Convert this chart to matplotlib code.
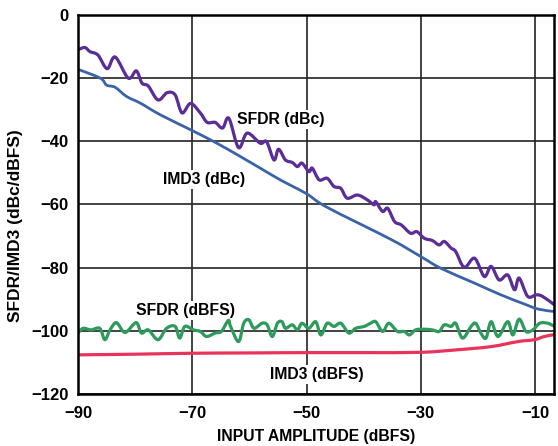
import numpy as np
import matplotlib.pyplot as plt
from matplotlib.path import Path
from matplotlib.patches import PathPatch

plt.rcParams['font.family'] = ['Liberation Sans', 'DejaVu Sans']
plt.rcParams['font.weight'] = 'bold'

# SFDR (dBc)
sfdr_dbc_x = [-90, -88.8, -87.9, -86.5, -84.9, -83.5, -81.2, -79.8, -78.8, -77.7,
              -76, -74.4, -73, -71.8, -70.3, -68.6, -67.4, -66, -64.7, -63.6,
              -61.9, -60.4, -58.1, -57.0, -55.7, -54.9, -53.7, -52.5, -51.6, -50.8,
              -49.6, -49.0, -47.8, -46.4, -45.2, -44.0, -42.9, -41.1, -39.4, -38.2,
              -37.9, -36.7, -35.8, -34.6, -33.4, -31.8, -30.7, -29.4, -28.0, -26.8,
              -25.9, -24.7, -23.9, -22.4, -20.6, -18.9, -17.7, -16.3, -14.8, -13.6,
              -12.8, -11.3, -9.8, -8.7, -6.6]
sfdr_dbc_y = [-11, -10.3, -11.6, -12.7, -17, -13.3, -20, -17.7, -21.6, -22.5,
              -26.9, -24.6, -25.3, -31, -28, -31, -34, -34, -35.8, -32.7,
              -42, -37.4, -40.6, -40.1, -45.9, -42.5, -45.9, -46.7, -48.0, -46.9,
              -49.6, -48.5, -52.2, -51.7, -54.3, -54.9, -58.0, -57.0, -58.5, -60.1,
              -59.1, -62.2, -61.2, -65.4, -66.5, -69.1, -68.6, -70.7, -71.4, -72.8,
              -71.7, -73.8, -74.9, -79.9, -77.0, -82.8, -79.6, -83.9, -82.3, -87.0,
              -83.3, -89.1, -88.6, -89.1, -91.8]

# IMD3 (dBc)
imd3_dbc_x = [-90, -86.1, -85, -83.5, -81.5, -79.1, -75.6, -70, -65.7, -61.6,
              -58.1, -54.6, -50, -46.4, -35.3, -30, -26.5, -20.6, -16, -11.9,
              -9.5, -6.6]
imd3_dbc_y = [-17.2, -20, -22.2, -22.9, -25.8, -27.9, -31.6, -36.6, -40.6, -44.8,
              -48.5, -52.2, -56.6, -60.9, -71.0, -76.5, -80.2, -84.9, -88.6, -91.5,
              -93.1, -93.9]

# SFDR (dBFS)
sfdr_dbfs_x = [-90, -89.1, -87.7, -86.2, -85.3, -84.4, -83.3, -82.1, -81.4, -79.8,
               -78.9, -77.7, -76, -74.5, -73, -72.2, -71.3, -69.8, -68.6, -67.5,
               -66, -64.9, -63.7, -63.3, -61.9, -61, -60.1, -59.2, -57.8, -56.9,
               -56, -55.1, -54.3, -53.7, -52.5, -51.6, -50.8, -49.6, -48.4, -47.5,
               -46.4, -45.2, -44, -42.6, -41.4, -39.9, -38.8, -37.9, -36.7, -35.6,
               -34.1, -32.9, -32, -30.9, -29.4, -28, -26.8, -25.9, -24.7, -23.9,
               -22.7, -21.2, -20.4, -19.5, -18.6, -17.7, -16.5, -14.8, -13.9, -12.8,
               -11.6, -10.4, -9.2, -7.8, -6.6]
sfdr_dbfs_y = [-100.7, -99.2, -99.7, -99.2, -102.8, -99.7, -97.4, -100.2, -100.2, -97.4,
               -100.7, -99.7, -102.8, -99.2, -98.6, -102.3, -98.6, -99.7, -100.2, -101.8,
               -100.7, -100.2, -96.7, -98.6, -103.4, -97.6, -96.5, -99.2, -97.6, -98.1,
               -101.8, -97.6, -97.1, -99.2, -98.1, -99.7, -97.6, -99.2, -97.1, -101.3,
               -97.6, -98.6, -97.6, -100.7, -99.2, -98.6, -97.6, -97.1, -100.2, -97.6,
               -100.2, -100.2, -101.3, -99.7, -99.5, -99.7, -100.2, -98.1, -98.6, -97.6,
               -102.3, -98.6, -97.6, -100.7, -102.3, -97.1, -101.8, -97.1, -101.3, -96.3,
               -100.2, -99.7, -97.6, -97.6, -98.6]

# IMD3 (dBFS)
imd3_dbfs_x = [-90, -80, -70, -60, -50, -40, -30, -23.6, -17.7, -13, -10.1, -8.4, -6.6]
imd3_dbfs_y = [-107.6, -107.4, -107.1, -107.0, -106.9, -106.9, -106.8, -106, -105,
               -103.4, -102.8, -101.8, -101.2]

x_ticks = [-90, -70, -50, -30, -10]
y_ticks = [0, -20, -40, -60, -80, -100, -120]


def smooth_line(ax, xs, ys, **kw):
    # Catmull-Rom through the measured points, drawn as cubic Bezier segments
    p = np.column_stack([xs, ys]).astype(float)
    p = np.vstack([p[0], p, p[-1]])
    verts = [p[1]]
    codes = [Path.MOVETO]
    for i in range(1, len(p) - 2):
        c1 = p[i] + (p[i + 1] - p[i - 1]) / 6.0
        c2 = p[i + 1] - (p[i + 2] - p[i]) / 6.0
        verts += [c1, c2, p[i + 1]]
        codes += [Path.CURVE4] * 3
    patch = PathPatch(Path(verts, codes), fill=False, capstyle='round',
                      joinstyle='round', **kw)
    ax.add_patch(patch)


fig = plt.figure(figsize=(5.58, 4.46), dpi=100)
ax = fig.add_axes([0.1398, 0.1166, 0.853, 0.8498])

smooth_line(ax, sfdr_dbc_x, sfdr_dbc_y, edgecolor='#5b2d96', lw=2.3, zorder=3)
smooth_line(ax, imd3_dbc_x, imd3_dbc_y, edgecolor='#3a63a8', lw=2.0, zorder=3)
smooth_line(ax, sfdr_dbfs_x, sfdr_dbfs_y, edgecolor='#2e9a5c', lw=2.3, zorder=3)
smooth_line(ax, imd3_dbfs_x, imd3_dbfs_y, edgecolor='#e8335a', lw=2.3, zorder=3)

ax.set_xlim(-90, -6.7)
ax.set_ylim(-120, 0)
ax.set_xticks(x_ticks)
ax.set_yticks(y_ticks)
ax.tick_params(length=0, labelsize=12)
ax.tick_params(axis='x', pad=9)
ax.tick_params(axis='y', pad=7)
ax.grid(True, color='#222222', lw=1.2)
ax.set_axisbelow(True)
for s in ax.spines.values():
    s.set_linewidth(1.8)
    s.set_zorder(4)

ax.set_xlabel('INPUT AMPLITUDE (dBFS)', fontsize=11.3, fontweight='bold')
ax.xaxis.set_label_coords(0.5, -0.093)
ax.set_ylabel('SFDR/IMD3 (dBc/dBFS)', fontsize=12.5, fontweight='bold', va='center')
ax.yaxis.set_label_coords(-0.132, 0.443)

box = dict(facecolor='white', edgecolor='none', pad=1.5)
lbl = dict(fontsize=11.3, fontweight='bold', ha='center', va='center', bbox=box, zorder=2)
ax.text(-54.6, -33.2, 'SFDR (dBc)', **lbl)
ax.text(-67.9, -52.2, 'IMD3 (dBc)', **lbl)
ax.text(-71.2, -93.7, 'SFDR (dBFS)', **lbl)
ax.text(-48.2, -113.9, 'IMD3 (dBFS)', **lbl)

fig.savefig('out.png', dpi=100)
